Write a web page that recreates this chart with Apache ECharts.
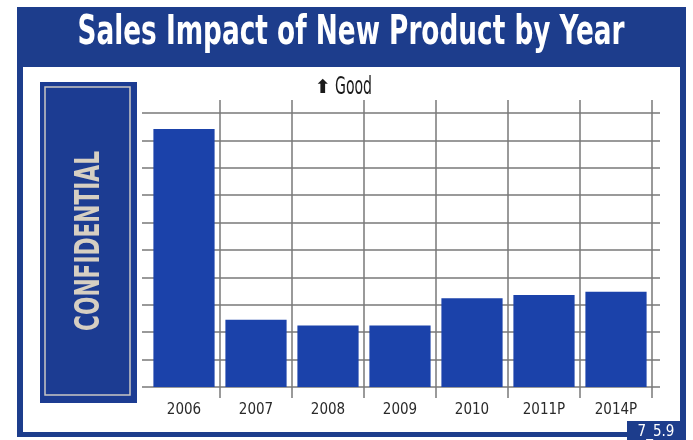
<!DOCTYPE html>
<html>
<head>
<meta charset="utf-8">
<script src="https://cdn.jsdelivr.net/npm/echarts@6/dist/echarts.min.js"></script>
<style>
  html, body { margin: 0; padding: 0; background: #fff; }
  #chart { width: 693px; height: 440px; }
</style>
</head>
<body>
<div id="chart"></div>
<script>
// data (no scale printed, 10 grid steps)
const years = ['2006', '2007', '2008', '2009', '2010', '2011P', '2014P'];
const sales = [9.42, 2.45, 2.24, 2.24, 3.24, 3.36, 3.48];
const yMax = 10;

const NAVY = '#1d3d8c';
const BAR = '#1b42aa';
const GRID = '#787878';
const NARROW = "'Liberation Sans Narrow', 'DejaVu Sans Condensed', sans-serif";

// squeeze a string to a target width (the original uses a condensed face)
const ctx = document.createElement('canvas').getContext('2d');
function fit(text, font, width) {
  ctx.font = font;
  return width / ctx.measureText(text).width;
}

const titleText = 'Sales Impact of New Product by Year';
const titleFont = 'bold 40px ' + NARROW;
const confFont = 'bold 34px ' + NARROW;
const goodFont = '25px ' + NARROW;

const chart = echarts.init(document.getElementById('chart'));

const option = {
  animation: false,
  grid: [
    // bars + horizontal rules
    { left: 148, right: 41, top: 113, bottom: 53 },
    // vertical rules, a bit taller than the plot
    { left: 220, right: 41, top: 100, bottom: 42 }
  ],
  xAxis: [
    {
      type: 'category', gridIndex: 0, data: years,
      axisLine: { show: false }, axisTick: { show: false },
      axisLabel: { color: '#2a2a2a', fontSize: 15, fontFamily: NARROW, margin: 16 }
    },
    {
      type: 'value', gridIndex: 1, min: 1, max: 7, interval: 1,
      axisLine: { show: false }, axisTick: { show: false }, axisLabel: { show: false },
      splitLine: { show: true, lineStyle: { color: GRID, width: 1.5 } }
    }
  ],
  yAxis: [
    {
      type: 'value', gridIndex: 0, min: 0, max: yMax, interval: 1,
      axisLine: { show: false }, axisLabel: { show: false },
      axisTick: { show: true, length: 6, lineStyle: { color: GRID, width: 1.5 } },
      splitLine: { show: true, lineStyle: { color: GRID, width: 1.5 } }
    },
    {
      type: 'value', gridIndex: 0, position: 'right', min: 0, max: yMax, interval: 1,
      axisLine: { show: false }, axisLabel: { show: false },
      axisTick: { show: true, length: 8, lineStyle: { color: GRID, width: 1.5 } },
      splitLine: { show: false }
    },
    {
      type: 'value', gridIndex: 1, show: false, min: 0, max: 1
    }
  ],
  series: [
    {
      type: 'bar', xAxisIndex: 0, yAxisIndex: 0,
      data: sales, barCategoryGap: '15%',
      itemStyle: { color: BAR }, z: 5
    }
  ],
  graphic: [
    // outer navy frame and white panel
    { type: 'rect', z: -10, shape: { x: 17, y: 7, width: 669, height: 430 }, style: { fill: NAVY } },
    { type: 'rect', z: -9, shape: { x: 23, y: 67, width: 657, height: 365 }, style: { fill: '#fff' } },
    {
      type: 'text', z: -8, x: 351, y: 34, scaleX: fit(titleText, titleFont, 547),
      style: { text: titleText, font: titleFont, fill: '#fff', align: 'center', verticalAlign: 'middle' }
    },
    // CONFIDENTIAL plate
    { type: 'rect', z: -8, shape: { x: 40, y: 82, width: 97, height: 321 }, style: { fill: '#1c3c92' } },
    {
      type: 'rect', z: -7, shape: { x: 45, y: 87, width: 85, height: 308 },
      style: { fill: null, stroke: '#c9c6c4', lineWidth: 1.5 }
    },
    {
      type: 'text', z: -7, x: 90, y: 241, rotation: Math.PI / 2,
      scaleX: fit('CONFIDENTIAL', confFont, 180),
      style: { text: 'CONFIDENTIAL', font: confFont, fill: '#d6cfc2', align: 'center', verticalAlign: 'middle' }
    },
    // "up is good" note
    {
      type: 'text', z: 10, x: 323, y: 88,
      style: { text: '⬆', font: 'bold 19px DejaVu Sans', fill: '#1a1a1a', align: 'center', verticalAlign: 'middle' }
    },
    {
      type: 'text', z: 10, x: 335, y: 87, scaleX: fit('Good', goodFont, 37),
      style: { text: 'Good', font: goodFont, fill: '#1a1a1a', align: 'left', verticalAlign: 'middle' }
    },
    // page tab
    { type: 'rect', z: -6, shape: { x: 627, y: 421, width: 59, height: 19 }, style: { fill: NAVY } },
    {
      type: 'text', z: -5, x: 656, y: 432,
      style: { text: '7_5.9', font: '15px ' + NARROW, fill: '#fff', align: 'center', verticalAlign: 'middle' }
    }
  ]
};

chart.setOption(option);
</script>
</body>
</html>
